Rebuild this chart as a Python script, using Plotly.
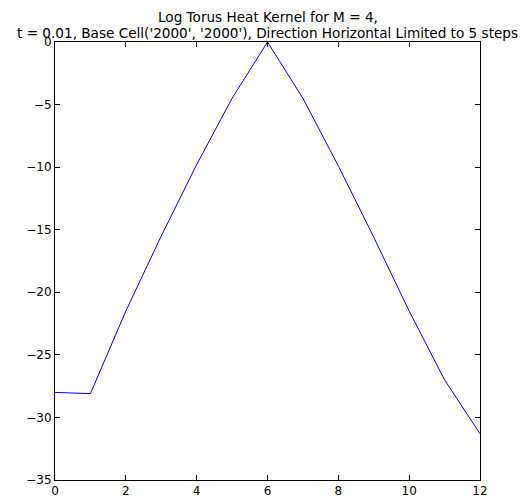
import plotly.graph_objects as go

x_vals = [0, 1, 2, 3, 4, 5, 6, 7, 8, 9, 10, 11, 12]
log_kernel = [-28.0, -28.1, -21.5, -15.5, -9.8, -4.5, 0.0, -4.5, -9.9, -15.6, -21.5, -27.0, -31.3]
x_ticks = [0, 2, 4, 6, 8, 10, 12]
y_ticks = [0, -5, -10, -15, -20, -25, -30, -35]
title_lines = ["Log Torus Heat Kernel for M = 4,",
               "t = 0.01, Base Cell('2000', '2000'), Direction Horizontal Limited to 5 steps"]

fig = go.Figure()
fig.add_trace(go.Scatter(x=x_vals, y=log_kernel, mode="lines",
                         line=dict(color="#0000ff", width=1), showlegend=False))

axis_common = dict(showline=True, linecolor="black", linewidth=1, mirror="ticks",
                   ticks="inside", ticklen=5, tickwidth=1, tickcolor="black",
                   showgrid=False, zeroline=False, automargin=False,
                   tickfont=dict(family="DejaVu Sans", size=12, color="black"))

fig.update_xaxes(range=[0, 12], tickvals=x_ticks, ticktext=[str(v) for v in x_ticks], **axis_common)
fig.update_yaxes(range=[-35, 0], tickvals=y_ticks,
                 ticktext=[str(v).replace("-", "\u2212") for v in y_ticks], **axis_common)

for line, shift in zip(title_lines, [25, 9]):
    fig.add_annotation(text=line, xref="paper", yref="paper",
                       x=0.5, y=1, yanchor="middle", xanchor="center", showarrow=False, yshift=shift,
                       font=dict(family="DejaVu Sans", size=13.6, color="black"))

fig.update_layout(template="none", width=521, height=492, plot_bgcolor="white", paper_bgcolor="white",
                  margin=dict(l=47, r=49, t=34, b=20, pad=0))

fig.write_html("out.html")
